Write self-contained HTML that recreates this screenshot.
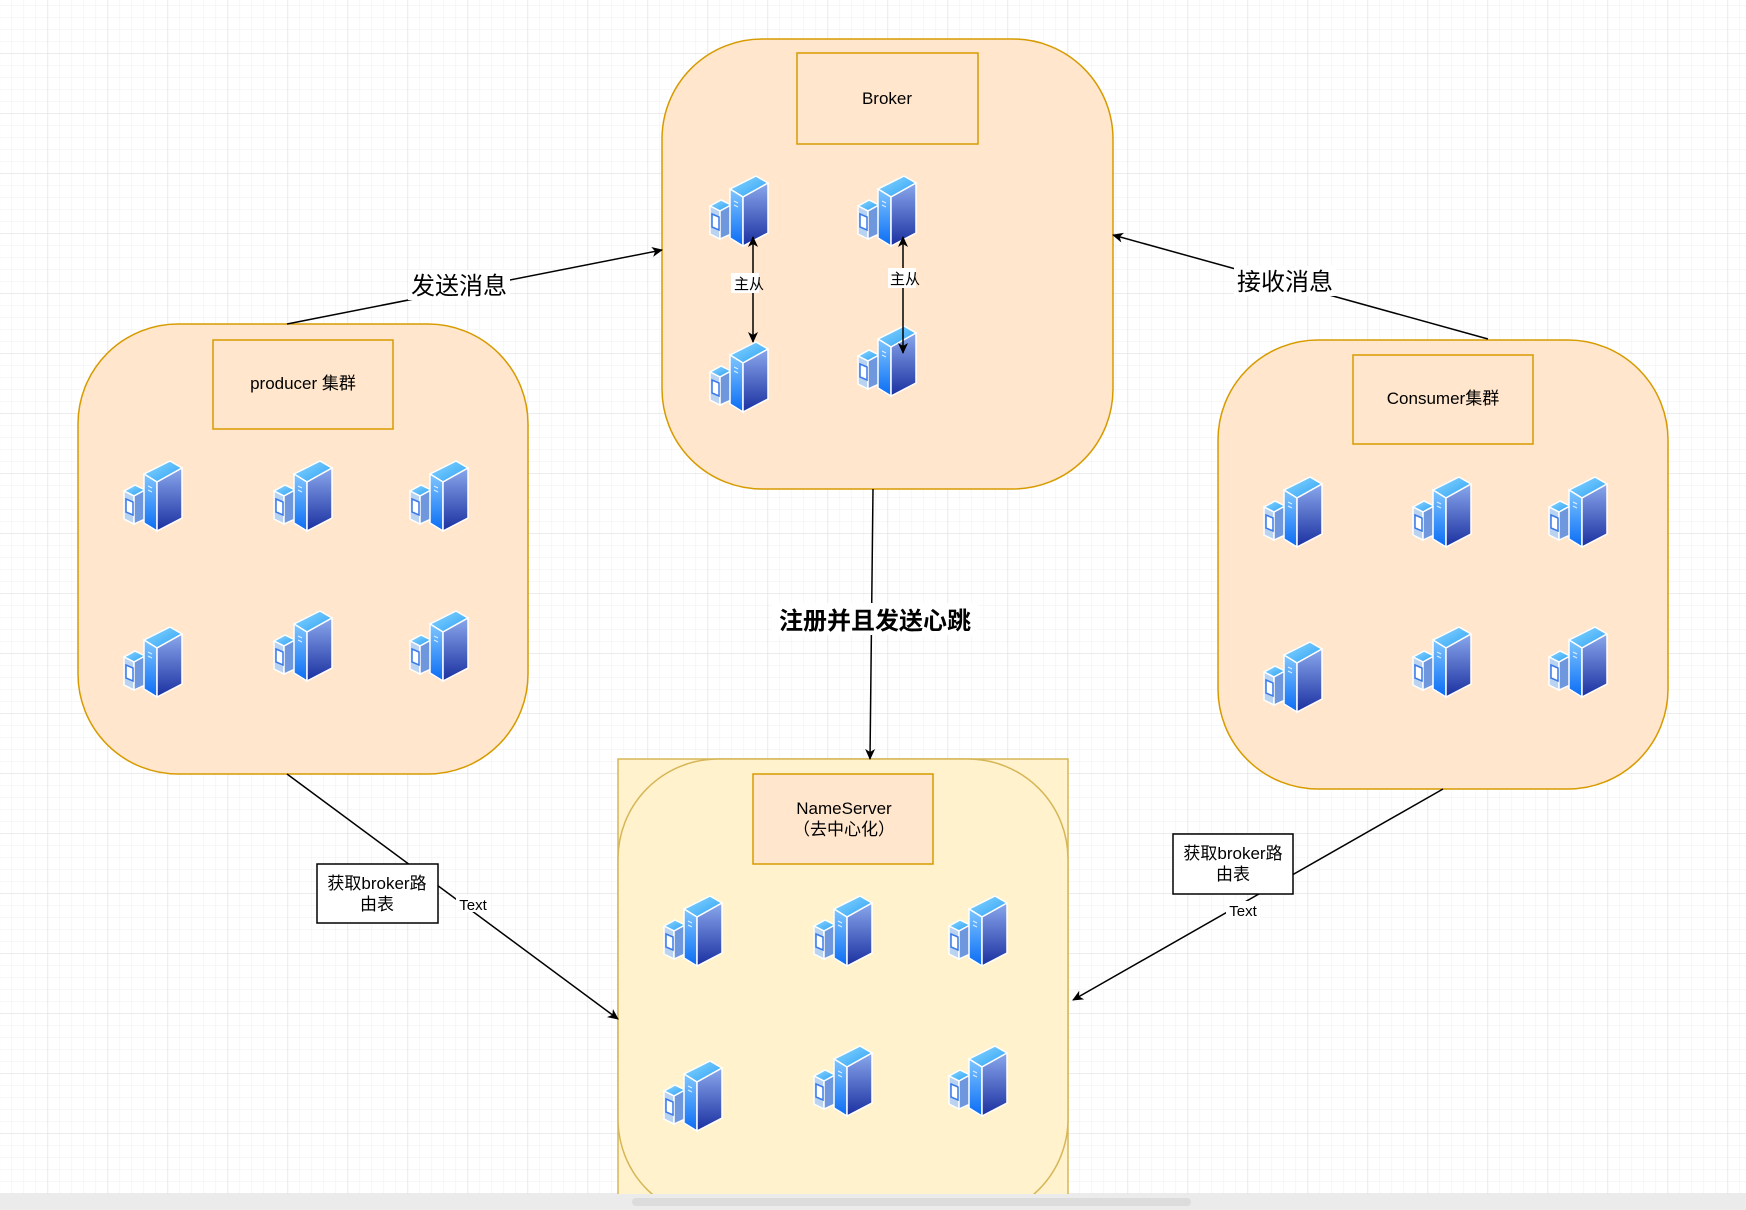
<!DOCTYPE html>
<html><head><meta charset="utf-8"><style>
html,body{margin:0;padding:0;background:#fff}
svg{display:block}
text{font-family:"Liberation Sans","Noto Sans CJK SC",sans-serif}
</style></head><body>
<svg width="1746" height="1210" viewBox="0 0 1746 1210" xmlns="http://www.w3.org/2000/svg">
<defs>
<pattern id="minor" x="47.6" y="53" width="12" height="12" patternUnits="userSpaceOnUse">
<path d="M0 0H12M0 0V12" stroke="#efefef" stroke-width="1" fill="none"/>
</pattern>
<pattern id="major" x="47.6" y="53" width="60" height="60" patternUnits="userSpaceOnUse">
<path d="M0 0H60M0 0V60" stroke="#dadada" stroke-width="1" fill="none"/>
</pattern>
<linearGradient id="gf" x1="0" y1="0" x2="0" y2="1"><stop offset="0" stop-color="#8aa8ec"/><stop offset="1" stop-color="#1a2fa0"/></linearGradient>
<linearGradient id="gl" x1="0" y1="0" x2="0" y2="1"><stop offset="0" stop-color="#7fc6ff"/><stop offset="1" stop-color="#0a6cf5"/></linearGradient>
<linearGradient id="gt" x1="0" y1="0" x2="1" y2="1"><stop offset="0" stop-color="#8fd8ff"/><stop offset="1" stop-color="#2aa0f5"/></linearGradient>
<g id="ic">
<polygon points="1,30 12,24 22,29 11,35" fill="url(#gt)" stroke="#fff" stroke-width="1.5"/>
<polygon points="1,30 11,35 11,63 1,58" fill="#b9d3f0" stroke="#fff" stroke-width="1.5"/>
<polygon points="11,35 22,29 22,58 11,63" fill="#6f97dd" stroke="#fff" stroke-width="1.5"/>
<polygon points="3,38 10,41 10,54 3,51" fill="#fff" stroke="#3a7ae8" stroke-width="1.5"/>
<polygon points="21,13 47,0 59,7 34,21" fill="url(#gt)" stroke="#fff" stroke-width="1.5"/>
<polygon points="21,13 34,21 34,70 21,62" fill="url(#gl)" stroke="#fff" stroke-width="1.5"/>
<polygon points="34,21 59,7 59,57 34,70" fill="url(#gf)" stroke="#fff" stroke-width="1.5"/>
<path d="M25 25l4 2M25 29l4 2" stroke="#dfefff" stroke-width="1"/>
</g>
<marker id="ar" markerWidth="12" markerHeight="12" refX="10" refY="6" orient="auto" markerUnits="userSpaceOnUse">
<path d="M0 1 L11 6 L0 11 L3 6 Z" fill="#000"/>
</marker>
<marker id="ars" markerWidth="12" markerHeight="12" refX="1" refY="6" orient="auto" markerUnits="userSpaceOnUse">
<path d="M11 1 L0 6 L11 11 L8 6 Z" fill="#000"/>
</marker>
</defs>
<rect width="1746" height="1210" fill="#fff"/>
<rect width="1746" height="1210" fill="url(#minor)"/>
<rect width="1746" height="1210" fill="url(#major)"/>

<!-- Broker -->
<rect x="662" y="39" width="451" height="450" rx="100" fill="#ffe6cc" stroke="#d79b00" stroke-width="1.5"/>
<rect x="797" y="53" width="181" height="91" fill="#ffe6cc" stroke="#d79b00" stroke-width="1.5"/>
<text x="887" y="104" font-size="17" text-anchor="middle">Broker</text>
<use href="#ic" x="709" y="176"/>
<use href="#ic" x="857" y="176"/>
<use href="#ic" x="709" y="342"/>
<use href="#ic" x="857" y="326"/>
<line x1="753" y1="237" x2="753" y2="342" stroke="#000" stroke-width="1.5" marker-start="url(#ars)" marker-end="url(#ar)"/>
<rect x="731" y="273" width="28" height="20" fill="#fff"/>
<text x="749" y="289" font-size="15" text-anchor="middle">主从</text>
<line x1="903" y1="237" x2="903" y2="353" stroke="#000" stroke-width="1.5" marker-start="url(#ars)" marker-end="url(#ar)"/>
<rect x="888" y="268" width="28" height="20" fill="#fff"/>
<text x="905" y="284" font-size="15" text-anchor="middle">主从</text>

<!-- Producer -->
<rect x="78" y="324" width="450" height="450" rx="100" fill="#ffe6cc" stroke="#d79b00" stroke-width="1.5"/>
<rect x="213" y="340" width="180" height="89" fill="#ffe6cc" stroke="#d79b00" stroke-width="1.5"/>
<text x="303" y="389" font-size="17" text-anchor="middle">producer 集群</text>
<use href="#ic" x="123" y="461"/>
<use href="#ic" x="273" y="461"/>
<use href="#ic" x="409" y="461"/>
<use href="#ic" x="123" y="627"/>
<use href="#ic" x="273" y="611"/>
<use href="#ic" x="409" y="611"/>

<!-- Consumer -->
<rect x="1218" y="340" width="450" height="449" rx="100" fill="#ffe6cc" stroke="#d79b00" stroke-width="1.5"/>
<rect x="1353" y="355" width="180" height="89" fill="#ffe6cc" stroke="#d79b00" stroke-width="1.5"/>
<text x="1443" y="404" font-size="17" text-anchor="middle">Consumer集群</text>
<use href="#ic" x="1263" y="477"/>
<use href="#ic" x="1412" y="477"/>
<use href="#ic" x="1548" y="477"/>
<use href="#ic" x="1263" y="642"/>
<use href="#ic" x="1412" y="627"/>
<use href="#ic" x="1548" y="627"/>

<!-- NameServer -->
<rect x="618" y="759" width="450" height="460" fill="#fff2cc" stroke="#d6b656" stroke-width="1.5"/>
<rect x="618" y="759" width="450" height="460" rx="100" fill="#fff2cc" stroke="#d6b656" stroke-width="1.5"/>
<rect x="753" y="774" width="180" height="90" fill="#ffe6cc" stroke="#d79b00" stroke-width="1.5"/>
<text x="844" y="814" font-size="17" text-anchor="middle">NameServer</text>
<text x="844" y="835" font-size="17" text-anchor="middle">（去中心化）</text>
<use href="#ic" x="663" y="896"/>
<use href="#ic" x="813" y="896"/>
<use href="#ic" x="948" y="896"/>
<use href="#ic" x="663" y="1061"/>
<use href="#ic" x="813" y="1046"/>
<use href="#ic" x="948" y="1046"/>

<!-- Edges -->
<line x1="287" y1="324" x2="662" y2="250" stroke="#000" stroke-width="1.5" marker-end="url(#ar)"/>
<rect x="408" y="270" width="102" height="30" fill="#fff"/>
<text x="459" y="294" font-size="24" text-anchor="middle">发送消息</text>

<line x1="1488" y1="339" x2="1113" y2="235" stroke="#000" stroke-width="1.5" marker-end="url(#ar)"/>
<rect x="1234" y="266" width="102" height="30" fill="#fff"/>
<text x="1285" y="290" font-size="24" text-anchor="middle">接收消息</text>

<line x1="873" y1="489" x2="870" y2="759" stroke="#000" stroke-width="1.5" marker-end="url(#ar)"/>
<rect x="772" y="603" width="206" height="32" fill="#fff"/>
<text x="875" y="629" font-size="24" font-weight="bold" text-anchor="middle">注册并且发送心跳</text>

<line x1="287" y1="774" x2="618" y2="1019" stroke="#000" stroke-width="1.5" marker-end="url(#ar)"/>
<rect x="317" y="864" width="121" height="59" fill="#fff" stroke="#000" stroke-width="1.5"/>
<text x="377" y="889" font-size="17" text-anchor="middle">获取broker路</text>
<text x="377" y="910" font-size="17" text-anchor="middle">由表</text>
<rect x="456" y="894" width="34" height="18" fill="#fff"/>
<text x="473" y="910" font-size="15" text-anchor="middle">Text</text>

<line x1="1443" y1="789" x2="1073" y2="1000" stroke="#000" stroke-width="1.5" marker-end="url(#ar)"/>
<rect x="1173" y="834" width="120" height="60" fill="#fff" stroke="#000" stroke-width="1.5"/>
<text x="1233" y="859" font-size="17" text-anchor="middle">获取broker路</text>
<text x="1233" y="880" font-size="17" text-anchor="middle">由表</text>
<rect x="1226" y="901" width="34" height="18" fill="#fff"/>
<text x="1243" y="916" font-size="15" text-anchor="middle">Text</text>

<!-- scrollbar -->
<rect x="0" y="1194" width="1746" height="16" fill="#ebebeb"/>
<rect x="632" y="1198" width="559" height="8" rx="4" fill="#dcdcdc"/>
</svg>
</body></html>
